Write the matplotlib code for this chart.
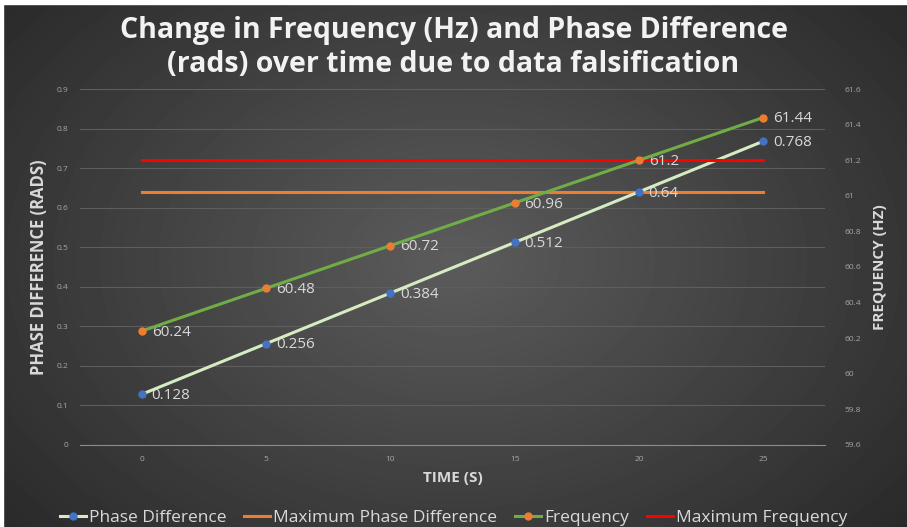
import numpy as np
import matplotlib
matplotlib.use("Agg")
import matplotlib.pyplot as plt
from matplotlib.lines import Line2D

# data
time_s = [0, 5, 10, 15, 20, 25]
phase_diff = [0.128, 0.256, 0.384, 0.512, 0.64, 0.768]
frequency = [60.24, 60.48, 60.72, 60.96, 61.2, 61.44]
max_phase_diff = 0.64
max_frequency = 61.2

title = "Change in Frequency (Hz) and Phase Difference\n(rads) over time due to data falsification"

plt.rcParams['font.family'] = ['Open Sans', 'DejaVu Sans']
txt = '#d9d9d9'

fig = plt.figure(figsize=(9.07, 5.27), dpi=100)

# radial gradient background
bg = fig.add_axes([0, 0, 1, 1], zorder=-10)
yy, xx = np.mgrid[0:527, 0:907]
r = np.sqrt(((xx - 453) / 600.0) ** 2 + ((yy - 260) / 420.0) ** 2)
shade = np.clip(0.36 - 0.2 * r, 0.15, 0.36)
bg.imshow(shade, cmap='gray', vmin=0, vmax=1, aspect='auto', extent=[0, 1, 0, 1])
bg.set_xlim(0, 1)
bg.set_ylim(0, 1)
bg.axis('off')
# white border top/left like the screenshot
bg.add_patch(plt.Rectangle((0, 1 - 4 / 527), 1, 4 / 527, color='white', transform=bg.transAxes))
bg.add_patch(plt.Rectangle((0, 0), 3 / 907, 1, color='white', transform=bg.transAxes))

ax = fig.add_axes([0.088, 0.156, 0.822, 0.675])
ax.patch.set_alpha(0)
ax2 = ax.twinx()
ax2.patch.set_alpha(0)

ax.set_xlim(-2.5, 27.5)
ax.set_ylim(0, 0.9)
ax2.set_ylim(59.6, 61.6)
ax.set_xticks(time_s)
ax.set_yticks(np.arange(0, 0.91, 0.1))
ax2.set_yticks(np.arange(59.6, 61.61, 0.2))
ax.set_yticklabels(['0', '0.1', '0.2', '0.3', '0.4', '0.5', '0.6', '0.7', '0.8', '0.9'])
ax2.set_yticklabels(['59.6', '59.8', '60', '60.2', '60.4', '60.6', '60.8', '61', '61.2', '61.4', '61.6'])

ax.grid(axis='y', color='#5e5e5e', linewidth=0.8)
for a in (ax, ax2):
    for s in a.spines.values():
        s.set_visible(False)
    a.tick_params(length=0, colors='#a6a6a6', labelsize=6)
ax.spines['bottom'].set_visible(True)
ax.spines['bottom'].set_color('#8c8c8c')
ax.tick_params(axis='x', pad=8)
ax.tick_params(axis='y', pad=8)
ax2.tick_params(axis='y', pad=14)

# lines
ax.plot([time_s[0], time_s[-1]], [max_phase_diff, max_phase_diff], color='#ed7d31', lw=2.2, zorder=2)
ax2.plot([time_s[0], time_s[-1]], [max_frequency, max_frequency], color='#ff0000', lw=2.2, zorder=2)
ax.plot(time_s, phase_diff, color='#d5ecc2', lw=2.2, marker='o', ms=5,
        mfc='#4472c4', mec='#4472c4', zorder=4)
ax2.plot(time_s, frequency, color='#70ad47', lw=2.2, marker='o', ms=5,
         mfc='#ed7d31', mec='#ed7d31', zorder=4)

for x, v in zip(time_s, phase_diff):
    ax.annotate(f'{v:g}', (x, v), xytext=(7, -1), textcoords='offset points',
                ha='left', va='center', color=txt, fontsize=11)
for x, v in zip(time_s, frequency):
    ax2.annotate(f'{v:g}', (x, v), xytext=(7, -1), textcoords='offset points',
                 ha='left', va='center', color=txt, fontsize=11)

ax.set_xlabel('TIME (S)', color=txt, fontsize=11, fontweight='bold', labelpad=6)
ax.set_ylabel('PHASE DIFFERENCE (RADS)', color=txt, fontsize=12, fontweight='bold', labelpad=6)
ax2.set_ylabel('FREQUENCY (HZ)', color=txt, fontsize=11, fontweight='bold', labelpad=8)

fig.text(0.5, 0.91, title, ha='center', va='center', color='#f2f2f2',
         fontsize=20.5, fontweight='bold', linespacing=1.2)

handles = [
    Line2D([], [], color='#d5ecc2', lw=2.2, marker='o', ms=5, mfc='#4472c4', mec='#4472c4'),
    Line2D([], [], color='#ed7d31', lw=2.2),
    Line2D([], [], color='#70ad47', lw=2.2, marker='o', ms=5, mfc='#ed7d31', mec='#ed7d31'),
    Line2D([], [], color='#ff0000', lw=2.2),
]
labels = ['Phase Difference', 'Maximum Phase Difference', 'Frequency', 'Maximum Frequency']
leg = fig.legend(handles, labels, loc='center', bbox_to_anchor=(0.5, 0.018), ncol=4,
                 frameon=False, fontsize=12.5, handlelength=1.5, handletextpad=0.2,
                 columnspacing=1.0)
for t in leg.get_texts():
    t.set_color(txt)

fig.savefig('out.png', dpi=100)
